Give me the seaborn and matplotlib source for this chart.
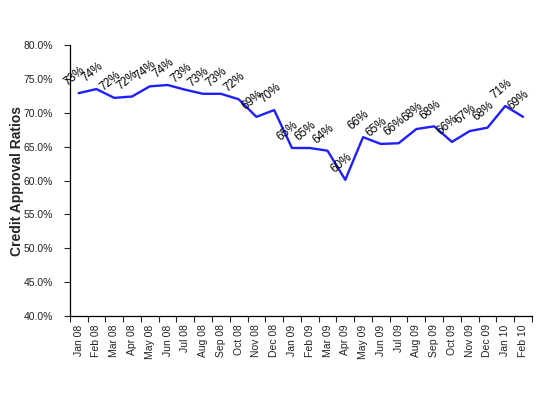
import numpy as np
import pandas as pd
import matplotlib
matplotlib.use("Agg")
import matplotlib.pyplot as plt
import matplotlib.ticker as mtick
import seaborn as sns

# monthly credit approval ratios
months = ["Jan 08", "Feb 08", "Mar 08", "Apr 08", "May 08", "Jun 08", "Jul 08",
          "Aug 08", "Sep 08", "Oct 08", "Nov 08", "Dec 08", "Jan 09", "Feb 09",
          "Mar 09", "Apr 09", "May 09", "Jun 09", "Jul 09", "Aug 09", "Sep 09",
          "Oct 09", "Nov 09", "Dec 09", "Jan 10", "Feb 10"]
ratios = [0.729, 0.735, 0.722, 0.724, 0.739, 0.741, 0.734,
          0.728, 0.728, 0.720, 0.694, 0.704, 0.648, 0.648,
          0.644, 0.601, 0.664, 0.654, 0.655, 0.676, 0.680,
          0.657, 0.673, 0.678, 0.710, 0.694]
point_labels = ["73%", "74%", "72%", "72%", "74%", "74%", "73%",
                "73%", "73%", "72%", "69%", "70%", "65%", "65%",
                "64%", "60%", "66%", "65%", "66%", "68%", "68%",
                "66%", "67%", "68%", "71%", "69%"]

df = pd.DataFrame({"pos": np.arange(len(months)), "ratio": ratios})

sns.set_style("white")
plt.rcParams["font.family"] = ["Liberation Sans", "DejaVu Sans"]

fig = plt.figure(figsize=(5.45, 3.95), dpi=100)
ax = fig.add_axes([0.128, 0.2, 0.848, 0.686])

sns.lineplot(data=df, x="pos", y="ratio", ax=ax, color="#1f1fff", linewidth=1.7)

# data labels, rotated, above each point
for x, y, lab in zip(df["pos"], df["ratio"], point_labels):
    ax.annotate(lab, (x, y), xytext=(-3, 12), textcoords="offset points",
                rotation=40, ha="center", va="center", fontsize=8.5, color="black")

ax.set_ylim(0.40, 0.80)
ax.set_yticks(np.arange(0.40, 0.801, 0.05))
ax.yaxis.set_major_formatter(mtick.PercentFormatter(1.0, decimals=1))
ax.set_xlim(-0.5, len(months) - 0.5)
ax.set_xticks(df["pos"])
ax.set_xticklabels(months, rotation=90)
ax.set_xticks(np.arange(-0.5, len(months), 1.0), minor=True)
ax.tick_params(axis="x", which="major", length=0, pad=6, labelsize=7.5, labelcolor="#222222")
ax.tick_params(axis="x", which="minor", length=4, width=0.8, direction="out", bottom=True)
ax.tick_params(axis="y", length=4, width=0.8, direction="out", left=True, labelsize=7.5,
               pad=8, labelcolor="#222222")

ax.set_xlabel("")
ax.set_ylabel("Credit Approval Ratios", fontsize=10, fontweight="bold")
ax.yaxis.set_label_coords(-0.098, 0.5)

for side in ["top", "right"]:
    ax.spines[side].set_visible(False)
for side in ["left", "bottom"]:
    ax.spines[side].set_color("black")
    ax.spines[side].set_linewidth(0.9)

fig.savefig("out.png", dpi=100)
